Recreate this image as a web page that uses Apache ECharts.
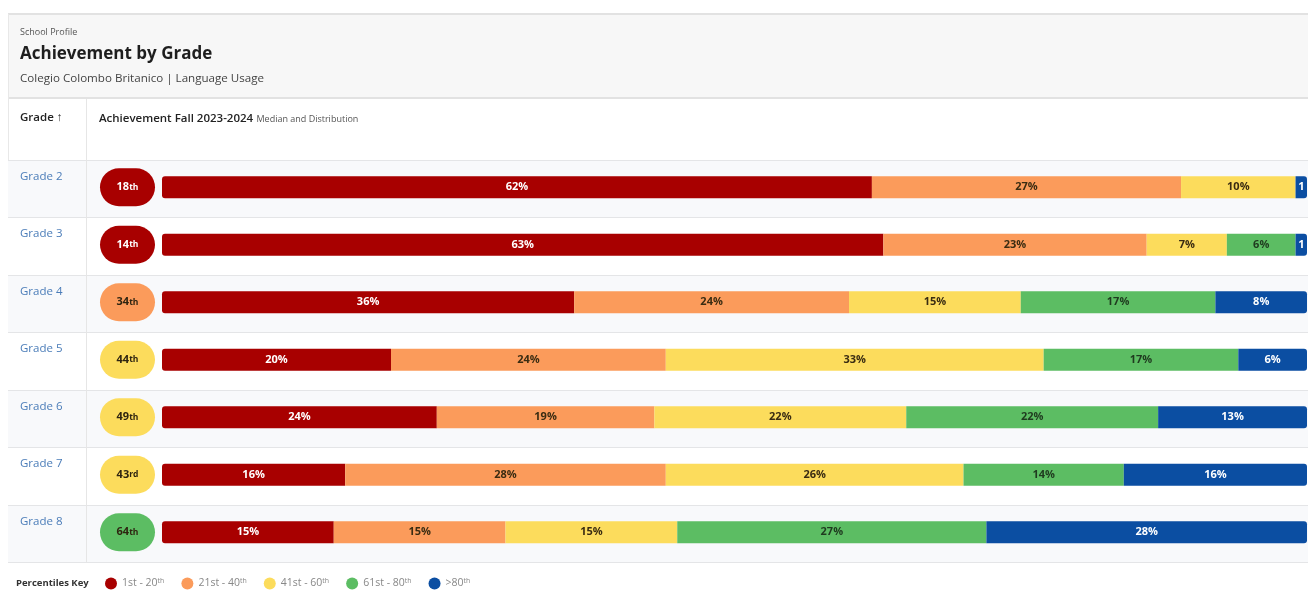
<!DOCTYPE html>
<html>
<head>
<meta charset="utf-8">
<script src="https://cdn.jsdelivr.net/npm/echarts@6/dist/echarts.min.js"></script>
<style>
html,body{margin:0;padding:0;background:#fff;}
#chart{width:1308px;height:599px;}
</style>
</head>
<body>
<div id="chart"></div>
<script>
// ---- data ----
const grades = ['Grade 2', 'Grade 3', 'Grade 4', 'Grade 5', 'Grade 6', 'Grade 7', 'Grade 8'];
const medians = [18, 14, 34, 44, 49, 43, 64];
const bandNames = ['1st - 20th', '21st - 40th', '41st - 60th', '61st - 80th', '>80th'];
const band1 = [62, 63, 36, 20, 24, 16, 15];
const band2 = [27, 23, 24, 24, 19, 28, 15];
const band3 = [10, 7, 15, 33, 22, 26, 15];
const band4 = [0, 6, 17, 17, 22, 14, 27];
const band5 = [1, 1, 8, 6, 13, 16, 28];

// ---- styles ----
const FONT = '"Open Sans", "Noto Sans", sans-serif';
const colors = ['#a80000', '#fb9b5b', '#fcdc5c', '#5cbd63', '#0b4ea2'];
const labelColors = ['#ffffff', '#3a2c12', '#3a2c12', '#1f3a1f', '#ffffff'];
const bands = [band1, band2, band3, band4, band5];

function ordinal(n) {
  const m100 = n % 100, m10 = n % 10;
  if (m100 >= 11 && m100 <= 13) return 'th';
  if (m10 === 1) return 'st';
  if (m10 === 2) return 'nd';
  if (m10 === 3) return 'rd';
  return 'th';
}
function bandOf(v) { return Math.min(4, Math.floor((v - 1) / 20)); }

const R = 3;
const barSeries = bands.map((arr, si) => ({
  name: bandNames[si],
  type: 'bar',
  stack: 'dist',
  xAxisIndex: 0, yAxisIndex: 0,
  barWidth: 22,
  itemStyle: { color: colors[si] },
  label: {
    show: true, position: 'inside',
    color: labelColors[si], fontFamily: FONT, fontSize: 11, fontWeight: 'bold',
    formatter: p => p.value === 0 ? '' : (p.value < 3 ? String(p.value) : p.value + '%')
  },
  data: arr.map((v, ri) => {
    let lastIdx = 0;
    bands.forEach((b, k) => { if (b[ri] > 0) lastIdx = k; });
    let firstIdx = bands.findIndex(b => b[ri] > 0);
    const rad = [si === firstIdx ? R : 0, si === lastIdx ? R : 0, si === lastIdx ? R : 0, si === firstIdx ? R : 0];
    return { value: v, itemStyle: { borderRadius: rad } };
  })
}));

const pillSeries = {
  type: 'custom',
  xAxisIndex: 0, yAxisIndex: 0,
  clip: false,
  z: 5,
  encode: { x: 0, y: 1 },
  data: medians.map((m, i) => [0, i, m]),
  renderItem: function (params, api) {
    const idx = api.value(1);
    const pt = api.coord([0, idx]);
    const cy = pt[1];
    const m = api.value(2);
    const b = bandOf(m);
    const w = 55, h = 38;
    const cx = pt[0] - 62 + w / 2;
    const tc = (b === 0 || b === 4) ? '#ffffff' : '#2e2410';
    return {
      type: 'group',
      children: [
        { type: 'text',
          style: { x: 20, y: cy - 11, align: 'left', verticalAlign: 'middle',
            text: grades[idx], fill: '#4a7cb8', fontSize: 11.5, fontFamily: FONT } },
        { type: 'rect', shape: { x: cx - w / 2, y: cy - h / 2, width: w, height: h, r: h / 2 },
          style: { fill: colors[b] } },
        { type: 'text',
          style: {
            x: cx, y: cy, align: 'center', verticalAlign: 'middle',
            text: '{n|' + m + '}{s|' + ordinal(m) + '}',
            rich: {
              n: { fill: tc, fontSize: 11, fontWeight: 'bold', fontFamily: FONT },
              s: { fill: tc, fontSize: 8.5, fontWeight: 'bold', fontFamily: FONT }
            }
          } }
      ]
    };
  }
};

const chart = echarts.init(document.getElementById('chart'), null, { renderer: 'canvas' });
const option = {
  animation: false,
  backgroundColor: '#ffffff',
  textStyle: { fontFamily: FONT },
  grid: [
    { left: 162, right: 1, top: 158.5, bottom: 38, containLabel: false },
    { left: 8, right: 0, top: 160, bottom: 36.5, containLabel: false }
  ],
  xAxis: [
    { type: 'value', gridIndex: 0, min: 0, max: 100, show: false },
    { type: 'value', gridIndex: 1, min: 0, max: 1, show: false }
  ],
  yAxis: [
    { type: 'category', gridIndex: 0, data: grades, inverse: true, show: false },
    { type: 'category', gridIndex: 1, data: grades, inverse: true,
      axisLine: { show: false }, axisTick: { show: false }, axisLabel: { show: false },
      splitLine: { show: true, lineStyle: { color: '#e4e5e7', width: 1 } },
      splitArea: { show: true, areaStyle: { color: ['#f8f9fb', '#ffffff'] } }
    }
  ],
  legend: {
    left: 100, top: 572,
    icon: 'circle', itemWidth: 12, itemHeight: 12, itemGap: 17,
    selectedMode: false,
    data: bandNames,
    formatter: function (name) {
      const m = name.match(/^(.*?)(th)$/);
      return '{t|' + m[1] + '}{s|th}';
    },
    textStyle: {
      rich: {
        t: { color: '#888', fontSize: 10.5, fontFamily: FONT, lineHeight: 13 },
        s: { color: '#888', fontSize: 7, fontFamily: FONT, verticalAlign: 'top', lineHeight: 13 }
      }
    }
  },
  graphic: [
    { type: 'rect', z: -10, shape: { x: 8, y: 14, width: 1300, height: 84 }, style: { fill: '#f7f7f7' } },
    { type: 'rect', z: -10, shape: { x: 8, y: 13, width: 1300, height: 2 }, style: { fill: '#e2e2e2' } },
    { type: 'rect', z: -10, shape: { x: 8, y: 97, width: 1300, height: 2 }, style: { fill: '#e2e2e2' } },
    { type: 'rect', z: -10, shape: { x: 8, y: 14, width: 1, height: 548 }, style: { fill: '#e8e8e8' } },
    { type: 'rect', z: 1, shape: { x: 86, y: 99, width: 1, height: 463 }, style: { fill: '#e6e6e6' } },
    { type: 'text', z: 10, style: { x: 20, y: 32, text: 'School Profile', fill: '#555', fontSize: 9, fontFamily: FONT, verticalAlign: 'middle' } },
    { type: 'text', z: 10, style: { x: 20, y: 54, text: 'Achievement by Grade', fill: '#1e1e1e', fontSize: 17, fontWeight: 'bold', fontFamily: FONT, verticalAlign: 'middle' } },
    { type: 'text', z: 10, style: { x: 20, y: 79, text: 'Colegio Colombo Britanico | Language Usage', fill: '#444', fontSize: 11.6, fontFamily: FONT, verticalAlign: 'middle' } },
    { type: 'text', z: 10, style: { x: 20, y: 118, text: 'Grade \u2191', fill: '#222', fontSize: 11.5, fontWeight: 600, fontFamily: FONT, verticalAlign: 'middle' } },
    { type: 'text', z: 10, style: { x: 99, y: 119,
        text: '{a|Achievement Fall 2023-2024} {b|Median and Distribution}',
        verticalAlign: 'middle',
        rich: {
          a: { fill: '#222', fontSize: 11.5, fontWeight: 600, fontFamily: FONT },
          b: { fill: '#555', fontSize: 9, fontFamily: FONT }
        } } },
    { type: 'text', z: 10, style: { x: 16, y: 583, text: 'Percentiles Key', fill: '#333', fontSize: 9.5, fontWeight: 'bold', fontFamily: FONT, verticalAlign: 'middle' } }
  ],
  series: barSeries.concat([pillSeries])
};
chart.setOption(option);
</script>
</body>
</html>
